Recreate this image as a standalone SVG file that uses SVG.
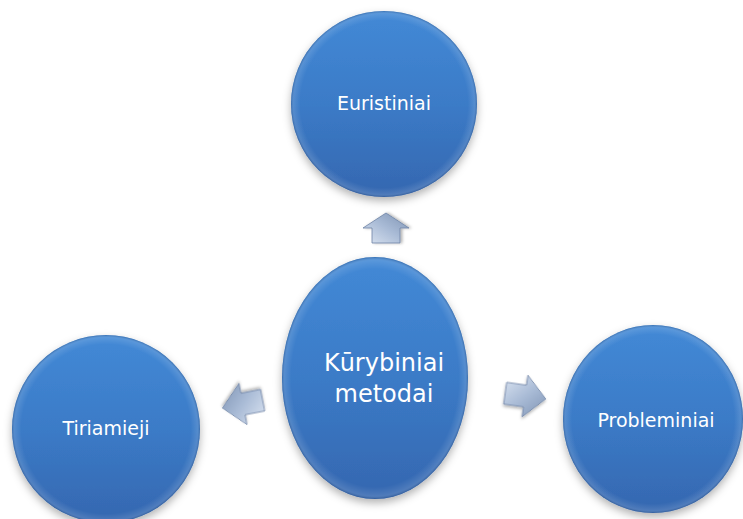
<svg xmlns="http://www.w3.org/2000/svg" width="743" height="519" viewBox="0 0 743 519">
<defs>
<linearGradient id="gBlue" x1="0" y1="0" x2="0" y2="1">
<stop offset="0" stop-color="#4389d6"/>
<stop offset="0.5" stop-color="#3b7bc7"/>
<stop offset="1" stop-color="#3567b0"/>
</linearGradient>
<radialGradient id="gRim" cx="0.5" cy="0.5" r="0.5">
<stop offset="0.9" stop-color="#ffffff" stop-opacity="0"/>
<stop offset="0.97" stop-color="#ffffff" stop-opacity="0.12"/>
<stop offset="1" stop-color="#1d3f70" stop-opacity="0.35"/>
</radialGradient>
<linearGradient id="gArrow" x1="0" y1="0" x2="1" y2="1">
<stop offset="0" stop-color="#dbe4f1"/>
<stop offset="0.5" stop-color="#a9bbd6"/>
<stop offset="1" stop-color="#7e93b3"/>
</linearGradient>
<filter id="sh" x="-20%" y="-20%" width="140%" height="150%">
<feDropShadow dx="0" dy="4" stdDeviation="4" flood-color="#000" flood-opacity="0.3"/>
</filter>
<filter id="shA" x="-30%" y="-30%" width="160%" height="160%">
<feDropShadow dx="0" dy="2" stdDeviation="1.5" flood-color="#000" flood-opacity="0.3"/>
</filter>
</defs>
<style>
.c{fill:url(#gBlue);filter:url(#sh)}
.rim{fill:url(#gRim)}
.t{font-family:"DejaVu Sans",Verdana,sans-serif;fill:#ffffff;text-anchor:middle}
.a{fill:url(#gArrow);stroke:#6f84a6;stroke-width:0.8;filter:url(#shA)}
</style>
<g id="connectors">
<polygon class="a" transform="translate(386,228) rotate(-90)" points="-15,-14 0,-14 0,-23 15,0 0,23 0,14 -15,14"/>
<polygon class="a" transform="translate(243,404) rotate(169)" points="-20,-11 0,-11 0,-21 21,0 0,21 0,11 -20,11"/>
<polygon class="a" transform="translate(525,396) rotate(8)" points="-20,-11 0,-11 0,-21 21,0 0,21 0,11 -20,11"/>
</g>
<g id="node-euristiniai">
<circle class="c" cx="384" cy="104" r="93"/>
<circle class="rim" cx="384" cy="104" r="93"/>
<text class="t" x="384" y="110" font-size="19">Euristiniai</text>
</g>
<g id="node-tiriamieji">
<circle class="c" cx="106" cy="429" r="94"/>
<circle class="rim" cx="106" cy="429" r="94"/>
<text class="t" x="106" y="435" font-size="19">Tiriamieji</text>
</g>
<g id="node-probleminiai">
<ellipse class="c" cx="653" cy="419" rx="90" ry="94"/>
<ellipse class="rim" cx="653" cy="419" rx="90" ry="94"/>
<text class="t" x="656" y="427" font-size="19">Probleminiai</text>
</g>
<g id="node-kurybiniai">
<ellipse class="c" cx="375" cy="378" rx="93" ry="121"/>
<ellipse class="rim" cx="375" cy="378" rx="93" ry="121"/>
<text class="t" x="384" y="371" font-size="24">Kūrybiniai</text>
<text class="t" x="384" y="402" font-size="24">metodai</text>
</g>
</svg>
